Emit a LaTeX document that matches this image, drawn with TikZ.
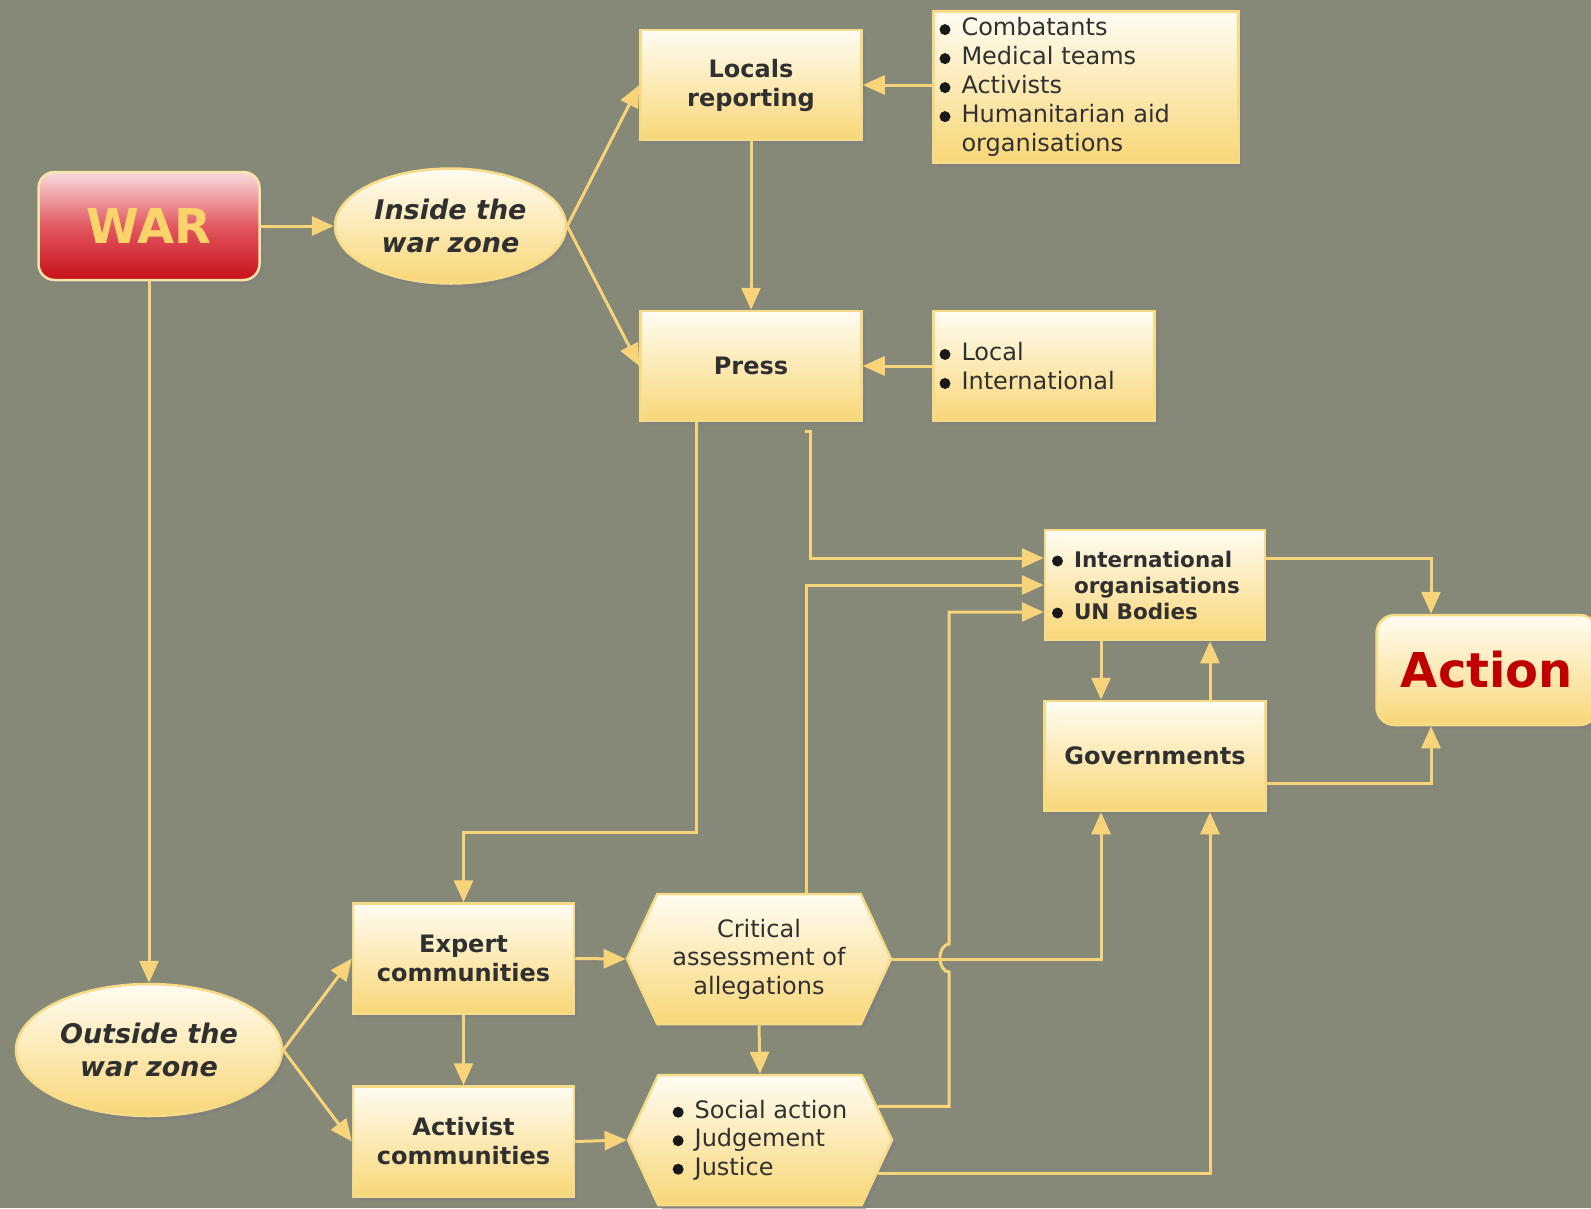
\documentclass[tikz,border=0pt]{standalone}
\usepackage{fontspec}
\setmainfont{DejaVu Sans}
\usepackage{graphicx}
\usepackage{tikz}
\usetikzlibrary{shapes,shapes.geometric,shapes.symbols}
\usetikzlibrary{arrows.meta,shadows,calc}
\usepackage{xcolor}
\definecolor{bgolive}{RGB}{134,136,120}
\definecolor{wire}{RGB}{247,212,122}
\definecolor{boxtop}{RGB}{255,252,242}
\definecolor{boxbot}{RGB}{249,215,120}
\definecolor{boxrim}{RGB}{246,220,135}
\definecolor{ink}{RGB}{48,48,48}
\definecolor{wartop}{RGB}{248,220,222}
\definecolor{warmid}{RGB}{226,88,96}
\definecolor{warbot}{RGB}{200,16,26}
\definecolor{warrim}{RGB}{247,228,170}
\definecolor{waryel}{RGB}{250,212,106}
\definecolor{actred}{RGB}{192,0,0}
\tikzstyle{card}=[draw=boxrim, line width=2.5pt, top color=boxtop, bottom color=boxbot, drop shadow={shadow xshift=4pt, shadow yshift=-4pt, opacity=0.55}, text=ink, inner sep=0pt]
\tikzstyle{box}=[card, rectangle, minimum width=221pt, minimum height=110pt, align=center, font=\fontsize{24}{29}\selectfont\bfseries]
\tikzstyle{listbox}=[card, rectangle, minimum height=110pt, align=left, font=\fontsize{24}{29}\selectfont]
\tikzstyle{zone}=[card, ellipse, align=center, font=\fontsize{27}{33}\selectfont\bfseries\itshape]
\tikzstyle{hexa}=[card, signal, signal to=east and west, signal pointer angle=130, minimum width=264pt, minimum height=130pt, align=center, font=\fontsize{24}{28.5}\selectfont]
\tikzstyle{link}=[draw=wire, line width=3pt, -{Triangle[length=22pt,width=19pt]}]
\newcommand{\lbul}{\makebox[22pt][l]{\tikz[baseline=0pt]\fill[black!90] (5.5pt,6pt) circle[radius=5.5pt];}}
\newcommand{\lgap}{\hspace*{22pt}}

\begin{document}
\begin{tikzpicture}[x=1pt,y=-1pt]
\fill[bgolive] (0,0) rectangle (1591,1208);
\useasboundingbox (0,0) rectangle (1591,1208);
\node[card, rectangle, rounded corners=16pt, top color=wartop, bottom color=warbot, middle color=warmid, draw=warrim, text=waryel, minimum width=221pt, minimum height=108pt, font=\fontsize{48}{48}\selectfont\bfseries] (war) at (149,226) {WAR};
\node[zone, minimum width=231pt, minimum height=115pt] (inzone) at (450.5,226) {Inside the\\war zone};
\node[zone, minimum width=266pt, minimum height=132pt] (outzone) at (149,1050) {Outside the\\war zone};
\node[box] (locals) at (751,85) {Locals\\reporting};
\node[box] (press) at (751,366) {Press};
\node[listbox, text width=293pt, minimum height=151pt, inner xsep=6pt] (actors) at (1086,87) {\lbul Combatants\\\lbul Medical teams\\\lbul Activists\\\lbul Humanitarian aid\\\lgap organisations};
\node[listbox, text width=209pt, inner xsep=6pt] (sources) at (1044,366) {\lbul Local\\\lbul International};
\node[listbox, text width=206pt, inner xsep=7pt, font=\fontsize{21.5}{26}\selectfont\bfseries] (intorg) at (1155,585) {\lbul International\\\lgap organisations\\\lbul UN Bodies};
\node[box] (govt) at (1155,756) {Governments};
\node[card, rectangle, rounded corners=18pt, minimum width=221pt, minimum height=110pt, text=actred, font=\fontsize{48}{48}\selectfont\bfseries] (action) at (1487,670) {Action};
\node[box] (expert) at (463.5,958.5) {Expert\\communities};
\node[box] (activist) at (463.5,1141.5) {Activist\\communities};
\node[hexa] (assess) at (759,959) {Critical\\assessment of\\allegations};
\node[hexa, align=left] (response) at (760,1140) {\lbul Social action\\\lbul Judgement\\\lbul Justice};
\coordinate (bend1) at (463.5,832);
\coordinate (hook) at (805,431);
\coordinate (jb) at (949,972);
\draw[link] (war.east) -- (inzone.west);
\draw[link] (inzone.east) -- (locals.west);
\draw[link] (inzone.east) -- (press.west);
\draw[link] (actors.west |- locals.east) -- (locals.east);
\draw[link] (sources.west) -- (press.east);
\draw[link] (locals.south) -- (press.north);
\draw[link] ([xshift=-55pt]press.south) |- (bend1) -- (expert.north);
\draw[link] (hook) -- ++(5,0) |- ([yshift=27pt]intorg.west);
\draw[link] ([xshift=47pt]assess.north) |- (intorg.west);
\draw[link] (assess.east) -| ([xshift=-54pt]govt.south);
\draw[link] (response.16) -| (jb) arc[start angle=-90, end angle=-270, x radius=9pt, y radius=14pt] |- ([yshift=-27pt]intorg.west);
\draw[link] (response.-16) -| ([xshift=55pt]govt.south);
\draw[link] ([xshift=-54pt]intorg.south) -- ([xshift=-54pt]govt.north);
\draw[link] ([xshift=55pt]govt.north) -- ([xshift=55pt]intorg.south);
\draw[link] ([yshift=27pt]intorg.east) -| ([xshift=-56pt]action.north);
\draw[link] ([yshift=-27pt]govt.east) -| ([xshift=-56pt]action.south);
\draw[link] (war.south) -- (outzone.north);
\draw[link] (outzone.east) -- (expert.west);
\draw[link] (outzone.east) -- (activist.west);
\draw[link] (expert.east) -- (assess.west);
\draw[link] (expert.south) -- (activist.north);
\draw[link] (activist.east) -- (response.west);
\draw[link] (assess.south) -- (response.north);
\end{tikzpicture}
\end{document}
